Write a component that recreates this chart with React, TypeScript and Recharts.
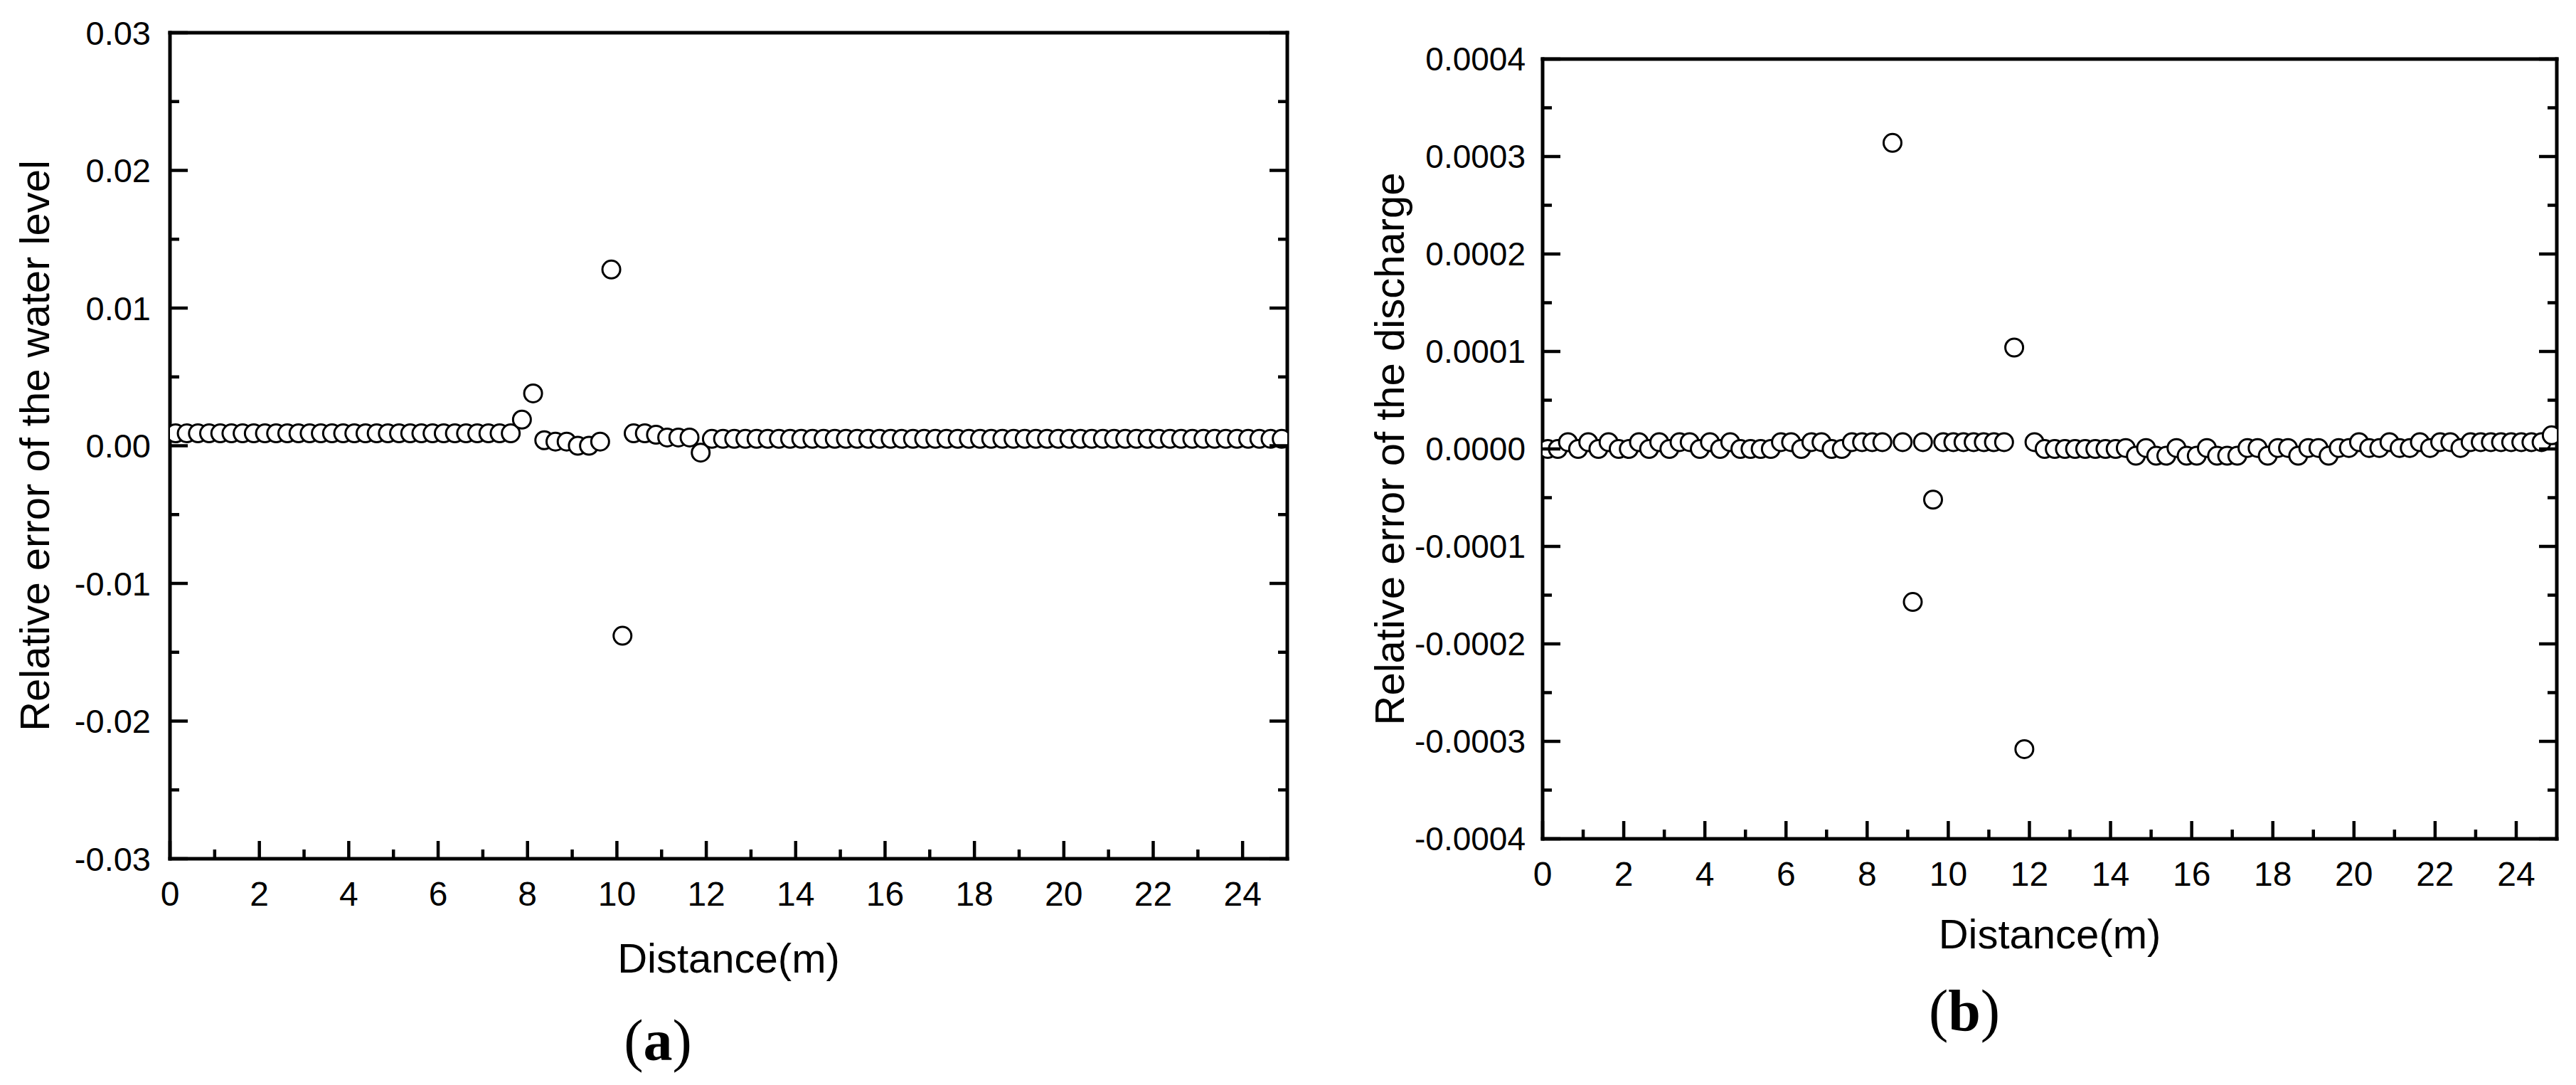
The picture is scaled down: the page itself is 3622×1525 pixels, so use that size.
import React from 'react';
import { ScatterChart, Scatter, XAxis, YAxis } from 'recharts';

// cell-centre distances (m)
const DISTANCE = [
  0.125, 0.375, 0.625, 0.875, 1.125, 1.375, 1.625, 1.875, 2.125, 2.375,
  2.625, 2.875, 3.125, 3.375, 3.625, 3.875, 4.125, 4.375, 4.625, 4.875,
  5.125, 5.375, 5.625, 5.875, 6.125, 6.375, 6.625, 6.875, 7.125, 7.375,
  7.625, 7.875, 8.125, 8.375, 8.625, 8.875, 9.125, 9.375, 9.625, 9.875,
  10.125, 10.375, 10.625, 10.875, 11.125, 11.375, 11.625, 11.875, 12.125, 12.375,
  12.625, 12.875, 13.125, 13.375, 13.625, 13.875, 14.125, 14.375, 14.625, 14.875,
  15.125, 15.375, 15.625, 15.875, 16.125, 16.375, 16.625, 16.875, 17.125, 17.375,
  17.625, 17.875, 18.125, 18.375, 18.625, 18.875, 19.125, 19.375, 19.625, 19.875,
  20.125, 20.375, 20.625, 20.875, 21.125, 21.375, 21.625, 21.875, 22.125, 22.375,
  22.625, 22.875, 23.125, 23.375, 23.625, 23.875, 24.125, 24.375, 24.625, 24.875,
];

// (a) relative error of the water level
const WATER_LEVEL_ERROR = [
  0.0009, 0.0009, 0.0009, 0.0009, 0.0009, 0.0009, 0.0009, 0.0009, 0.0009, 0.0009,
  0.0009, 0.0009, 0.0009, 0.0009, 0.0009, 0.0009, 0.0009, 0.0009, 0.0009, 0.0009,
  0.0009, 0.0009, 0.0009, 0.0009, 0.0009, 0.0009, 0.0009, 0.0009, 0.0009, 0.0009,
  0.0009, 0.0019, 0.0038, 0.0004, 0.0003, 0.0003, 0.0, 0.0, 0.0003, 0.0128,
  -0.0138, 0.0009, 0.0009, 0.0008, 0.0006, 0.0006, 0.0006, -0.0005, 0.0005, 0.0005,
  0.0005, 0.0005, 0.0005, 0.0005, 0.0005, 0.0005, 0.0005, 0.0005, 0.0005, 0.0005,
  0.0005, 0.0005, 0.0005, 0.0005, 0.0005, 0.0005, 0.0005, 0.0005, 0.0005, 0.0005,
  0.0005, 0.0005, 0.0005, 0.0005, 0.0005, 0.0005, 0.0005, 0.0005, 0.0005, 0.0005,
  0.0005, 0.0005, 0.0005, 0.0005, 0.0005, 0.0005, 0.0005, 0.0005, 0.0005, 0.0005,
  0.0005, 0.0005, 0.0005, 0.0005, 0.0005, 0.0005, 0.0005, 0.0005, 0.0005, 0.0005,
];

// (b) relative error of the discharge
const DISCHARGE_ERROR = [
  0, 0, 0.000007, 0, 0.000007, 0, 0.000007, 0, 0, 0.000007,
  0, 0.000007, 0, 0.000007, 0.000007, 0, 0.000007, 0, 0.000007, 0,
  0, 0, 0, 0.000007, 0.000007, 0, 0.000007, 0.000007, 0, 0,
  0.000007, 0.000007, 0.000007, 0.000007, 0.000314, 0.000007, -0.000157, 0.000007, -0.000052, 0.000007,
  0.000007, 0.000007, 0.000007, 0.000007, 0.000007, 0.000007, 0.000104, -0.000308, 0.000007, 0,
  0, 0, 0, 0, 0, 0, 0, 0.000001, -0.000007, 0.000001,
  -0.000007, -0.000007, 0.000001, -0.000007, -0.000007, 0.000001, -0.000007, -0.000007, -0.000007, 0.000001,
  0.000001, -0.000007, 0.000001, 0.000001, -0.000007, 0.000001, 0.000001, -0.000007, 0.000001, 0.000001,
  0.000007, 0.000001, 0.000001, 0.000007, 0.000001, 0.000001, 0.000007, 0.000001, 0.000007, 0.000007,
  0.000001, 0.000007, 0.000007, 0.000007, 0.000007, 0.000007, 0.000007, 0.000007, 0.000007, 0.000014,
];

const X_TICKS = [0, 1, 2, 3, 4, 5, 6, 7, 8, 9, 10, 11, 12, 13, 14, 15, 16, 17, 18, 19, 20, 21, 22, 23, 24];
const X_MAJOR = [0, 2, 4, 6, 8, 10, 12, 14, 16, 18, 20, 22, 24];

const WL_TICKS = [-0.03, -0.025, -0.02, -0.015, -0.01, -0.005, 0, 0.005, 0.01, 0.015, 0.02, 0.025, 0.03];
const WL_MAJOR = [-0.03, -0.02, -0.01, 0, 0.01, 0.02, 0.03];

const Q_TICKS = [-0.0004, -0.00035, -0.0003, -0.00025, -0.0002, -0.00015, -0.0001, -0.00005, 0,
  0.00005, 0.0001, 0.00015, 0.0002, 0.00025, 0.0003, 0.00035, 0.0004];
const Q_MAJOR = [-0.0004, -0.0003, -0.0002, -0.0001, 0, 0.0001, 0.0002, 0.0003, 0.0004];

const FONT = "'Liberation Sans', Arial, sans-serif";
const SERIF = "'Liberation Serif', 'Times New Roman', serif";
const AXIS_LINE = { stroke: '#000', strokeWidth: 5, strokeLinecap: 'square' as const };

const isMajor = (majors: number[], v: number) => majors.some((m) => Math.abs(m - v) < 1e-12);

// draws inward ticks (major/minor) and labels for majors
function makeTick(side: string, majors: number[], digits: number, fontSize: number, gap: number) {
  return (props: any) => {
    const { x, y, payload } = props;
    const v = payload.value;
    const major = isMajor(majors, v);
    const len = major ? 25 : 13;
    const line = { stroke: '#000', strokeWidth: 4.5 };
    if (side === 'bottom') {
      return (
        <g>
          <line x1={x} y1={y} x2={x} y2={y - len} {...line} />
          {major && (
            <text x={x} y={y + 66} textAnchor="middle" fontSize={fontSize} fontFamily={FONT} fill="#000">
              {v.toFixed(digits)}
            </text>
          )}
        </g>
      );
    }
    if (side === 'top') return <line x1={x} y1={y} x2={x} y2={y + len} {...line} />;
    if (side === 'right') return <line x1={x} y1={y} x2={x - len} y2={y} {...line} />;
    return (
      <g>
        <line x1={x} y1={y} x2={x + len} y2={y} {...line} />
        {major && (
          <text x={x - gap} y={y + fontSize * 0.358} textAnchor="end" fontSize={fontSize} fontFamily={FONT} fill="#000">
            {v.toFixed(digits)}
          </text>
        )}
      </g>
    );
  };
}

const circle = (p: any) => (
  <circle cx={p.cx} cy={p.cy} r={12.5} fill="#fff" stroke="#000" strokeWidth={3} />
);

const titleStyle = { fontSize: 58, fontFamily: FONT, fill: '#000' };

interface PanelProps {
  width: number;
  margin: { top: number; right: number; bottom: number; left: number };
  axisWidth: number;
  values: number[];
  domain: [number, number];
  ticks: number[];
  majors: number[];
  digits: number;
  yFont: number;
  yGap: number;
  yTitle: string;
  yTitleOffset: number;
  xTitleOffset: number;
}

function Panel(p: PanelProps) {
  const data = DISTANCE.map((d, i) => ({ x: d, y: p.values[i] }));
  return (
    <ScatterChart width={p.width} height={1525} margin={p.margin}>
      <XAxis
        xAxisId="b" type="number" dataKey="x" domain={[0, 25]} ticks={X_TICKS} interval={0}
        height={100} tickSize={0} tickMargin={0} tickLine={false} axisLine={AXIS_LINE}
        tick={makeTick('bottom', X_MAJOR, 0, 48, 0)} allowDataOverflow
        label={{ value: 'Distance(m)', position: 'bottom', offset: p.xTitleOffset, ...titleStyle, style: titleStyle }}
      />
      <XAxis
        xAxisId="t" orientation="top" type="number" domain={[0, 25]} ticks={X_TICKS} interval={0}
        height={1} tickSize={0} tickMargin={0} tickLine={false} axisLine={AXIS_LINE}
        tick={makeTick('top', X_MAJOR, 0, 48, 0)} allowDataOverflow
      />
      <YAxis
        yAxisId="l" type="number" dataKey="y" domain={p.domain} ticks={p.ticks} interval={0}
        width={p.axisWidth} tickSize={0} tickMargin={0} tickLine={false} axisLine={AXIS_LINE}
        tick={makeTick('left', p.majors, p.digits, p.yFont, p.yGap)} allowDataOverflow
        label={{
          value: p.yTitle, angle: -90, position: 'insideLeft', offset: p.yTitleOffset,
          ...titleStyle, style: { ...titleStyle, textAnchor: 'middle' },
        }}
      />
      <YAxis
        yAxisId="r" orientation="right" type="number" domain={p.domain} ticks={p.ticks} interval={0}
        width={1} tickSize={0} tickMargin={0} tickLine={false} axisLine={AXIS_LINE}
        tick={makeTick('right', p.majors, p.digits, p.yFont, p.yGap)} allowDataOverflow
      />
      <Scatter data={data} xAxisId="b" yAxisId="l" shape={circle} isAnimationActive={false} />
    </ScatterChart>
  );
}

export default function App() {
  return (
    <div style={{ position: 'absolute', left: 0, top: 0, width: 3622, height: 1525, background: '#fff' }}>
      <div style={{ position: 'absolute', left: 0, top: 0 }}>
        <Panel
          width={1860}
          margin={{ top: 45, right: 49, bottom: 218, left: 0 }}
          axisWidth={239}
          values={WATER_LEVEL_ERROR}
          domain={[-0.03, 0.03]}
          ticks={WL_TICKS}
          majors={WL_MAJOR}
          digits={2}
          yFont={47}
          yGap={27}
          yTitle="Relative error of the water level"
          yTitleOffset={48}
          xTitleOffset={19}
        />
      </div>
      <div style={{ position: 'absolute', left: 1860, top: 0 }}>
        <Panel
          width={1762}
          margin={{ top: 82, right: 26, bottom: 246, left: 0 }}
          axisWidth={309}
          values={DISCHARGE_ERROR}
          domain={[-0.0004, 0.0004]}
          ticks={Q_TICKS}
          majors={Q_MAJOR}
          digits={4}
          yFont={46}
          yGap={24}
          yTitle="Relative error of the discharge"
          yTitleOffset={93}
          xTitleOffset={13}
        />
      </div>
      <svg width={3622} height={1525} style={{ position: 'absolute', left: 0, top: 0, pointerEvents: 'none' }}>
        <text x={925} y={1490} textAnchor="middle" fontSize={82} fontFamily={SERIF} fill="#000">
          (<tspan fontWeight="bold">a</tspan>)
        </text>
        <text x={2762} y={1448} textAnchor="middle" fontSize={82} fontFamily={SERIF} fill="#000">
          (<tspan fontWeight="bold">b</tspan>)
        </text>
      </svg>
    </div>
  );
}
